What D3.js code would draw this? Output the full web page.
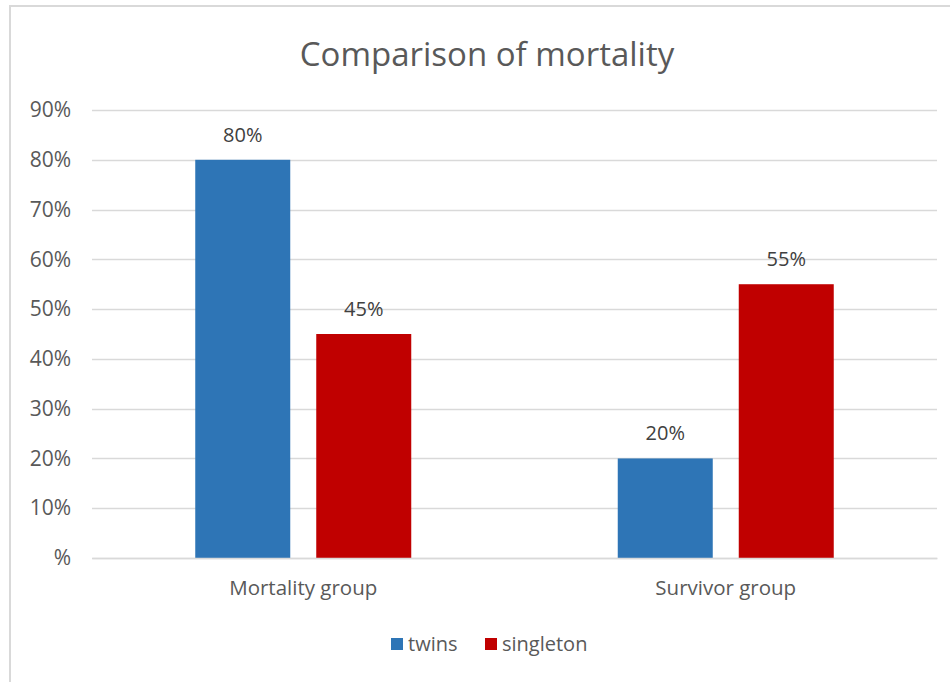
<!DOCTYPE html>
<html>
<head>
<meta charset="utf-8">
<script src="https://cdn.jsdelivr.net/npm/d3@7"></script>
<style>
  html, body { margin: 0; padding: 0; background: #ffffff; }
  svg { display: block; font-family: "Open Sans", "Noto Sans", sans-serif; }
</style>
</head>
<body>
<svg id="chart" width="950" height="682"></svg>
<script>
// Chart data
const categories = ["Mortality group", "Survivor group"];
const seriesNames = ["twins", "singleton"];
const twinsValues = [0.80, 0.20];
const singletonValues = [0.45, 0.55];
const yTicks = [0, 0.1, 0.2, 0.3, 0.4, 0.5, 0.6, 0.7, 0.8, 0.9];
const chartTitle = "Comparison of mortality";

const colors = { twins: "#2E75B6", singleton: "#C00000" };
const textColor = "#595959";

const rows = categories.map((c, i) => ({
  category: c,
  values: [
    { key: "twins", value: twinsValues[i] },
    { key: "singleton", value: singletonValues[i] }
  ]
}));

const svg = d3.select("#chart");
const W = 950, H = 682;

// Chart area frame
svg.append("rect")
  .attr("x", 10).attr("y", 6)
  .attr("width", W + 20).attr("height", H + 20)
  .attr("fill", "#ffffff")
  .attr("stroke", "#d9d9d9").attr("stroke-width", 2);

const plot = { left: 92, right: 937, top: 110, bottom: 558 };

const y = d3.scaleLinear().domain([0, 0.9]).range([plot.bottom, plot.top]);

const x0 = d3.scaleBand()
  .domain(categories)
  .range([plot.left, plot.right])
  .paddingInner(0).paddingOuter(0);

// inner band holds the pair of bars
const groupWidth = 216;
const x1 = d3.scaleBand()
  .domain(seriesNames)
  .range([0, groupWidth])
  .paddingInner(26 / 121)
  .paddingOuter(0);

// Title
svg.append("text")
  .attr("x", 487)
  .attr("y", 66)
  .attr("text-anchor", "middle")
  .attr("fill", textColor)
  .attr("font-size", 33)
  .text(chartTitle);

// Gridlines
svg.append("g")
  .selectAll("line")
  .data(yTicks)
  .join("line")
  .attr("x1", plot.left).attr("x2", plot.right)
  .attr("y1", d => Math.round(y(d)) + 0.5)
  .attr("y2", d => Math.round(y(d)) + 0.5)
  .attr("stroke", "#d9d9d9").attr("stroke-width", 1.3);

// Y axis labels
const yAxis = d3.axisLeft(y)
  .tickValues(yTicks)
  .tickSize(0)
  .tickPadding(0)
  .tickFormat(d => d === 0 ? "%" : Math.round(d * 100) + "%");

const yg = svg.append("g")
  .attr("transform", `translate(${plot.left - 21},0)`)
  .call(yAxis);
yg.select(".domain").remove();
yg.selectAll("text")
  .attr("fill", textColor)
  .attr("font-size", 21)
  .attr("font-family", "'Open Sans', sans-serif");

// Bars
const groups = svg.append("g")
  .selectAll("g")
  .data(rows)
  .join("g")
  .attr("transform", d => `translate(${x0(d.category) + (x0.bandwidth() - groupWidth) / 2},0)`);

groups.selectAll("rect")
  .data(d => d.values)
  .join("rect")
  .attr("x", d => x1(d.key))
  .attr("width", x1.bandwidth())
  .attr("y", d => y(d.value))
  .attr("height", d => y(0) - y(d.value))
  .attr("fill", d => colors[d.key]);

// Data labels
groups.selectAll("text")
  .data(d => d.values)
  .join("text")
  .attr("x", d => x1(d.key) + x1.bandwidth() / 2)
  .attr("y", d => y(d.value) - 18)
  .attr("text-anchor", "middle")
  .attr("fill", "#404040")
  .attr("font-size", 20)
  .text(d => Math.round(d.value * 100) + "%");

// X axis baseline and category labels
const xAxis = d3.axisBottom(x0).tickSize(0).tickPadding(22);
const xg = svg.append("g")
  .attr("transform", `translate(0,${plot.bottom})`)
  .call(xAxis);
xg.select(".domain").attr("stroke", "#d9d9d9").attr("stroke-width", 1.5);
xg.selectAll("text")
  .attr("fill", textColor)
  .attr("font-size", 20.5)
  .attr("font-family", "'Open Sans', sans-serif");

// Legend
const legend = svg.append("g").attr("transform", "translate(391,651)");
const legendItems = [
  { key: "twins", x: 0 },
  { key: "singleton", x: 94 }
];
legendItems.forEach(item => {
  legend.append("rect")
    .attr("x", item.x).attr("y", -13)
    .attr("width", 12).attr("height", 12)
    .attr("fill", colors[item.key]);
  legend.append("text")
    .attr("x", item.x + 17).attr("y", 0)
    .attr("fill", textColor)
    .attr("font-size", 20)
    .text(item.key);
});
</script>
</body>
</html>
